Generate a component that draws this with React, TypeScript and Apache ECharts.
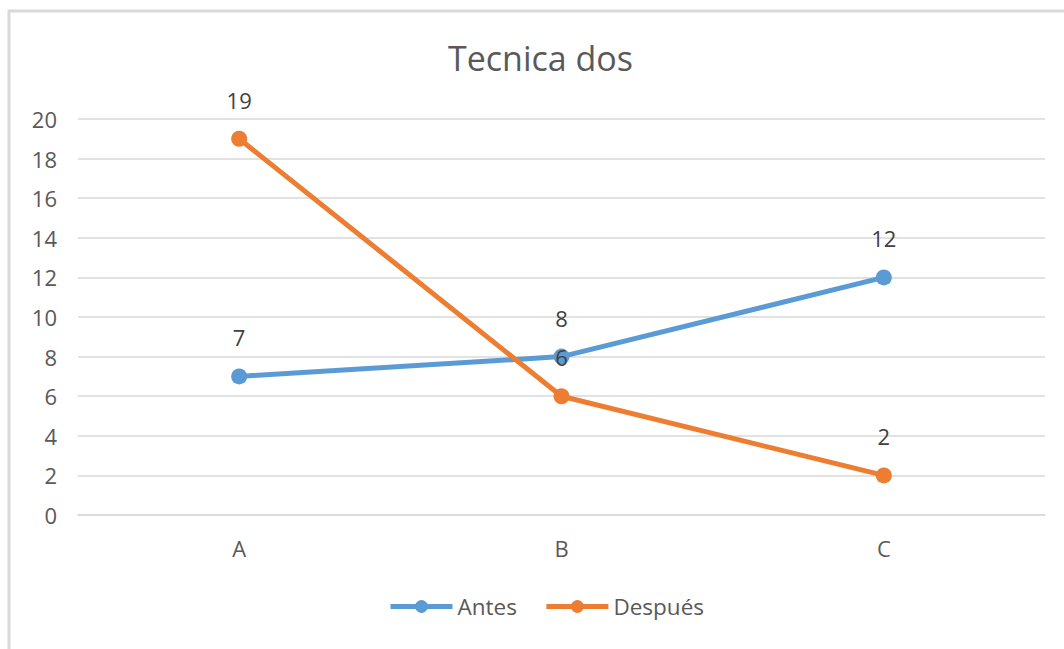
import React, { useEffect, useRef } from "react";
import * as echarts from "echarts";

const categories = ["A", "B", "C"];
const antes = [7, 8, 12];
const despues = [19, 6, 2];
const seriesNames = ["Antes", "Después"];
const titleText = "Tecnica dos";

const FONT = "'Open Sans', sans-serif";
const TEXT = "#595959";

export default function App() {
  const ref = useRef<HTMLDivElement>(null);
  useEffect(() => {
    if (!ref.current) return;
    const chart = echarts.init(ref.current, undefined, { renderer: "svg" });
    const lbl = {
      show: true,
      position: "top",
      distance: 20,
      color: "#404040",
      fontSize: 22,
      fontFamily: FONT,
    };
    chart.setOption({
      animation: false,
      backgroundColor: "#ffffff",
      textStyle: { fontFamily: FONT },
      title: {
        text: titleText,
        left: 448,
        top: 41,
        padding: 0,
        textStyle: { color: TEXT, fontSize: 34, fontWeight: "normal", fontFamily: FONT },
      },
      graphic: [
        {
          type: "rect",
          shape: { x: 9, y: 11, width: 1100, height: 700 },
          style: { fill: "none", stroke: "#d9d9d9", lineWidth: 3 },
          silent: true,
        },
      ],
      grid: { left: 78, right: 19, top: 119, bottom: 134, containLabel: false },
      legend: {
        data: seriesNames,
        bottom: 26,
        left: 383,
        itemWidth: 62,
        itemHeight: 16,
        itemGap: 27,
        lineStyle: { width: 5 },
        textStyle: { color: TEXT, fontSize: 22.5, fontFamily: FONT, padding: [0, 0, 0, 0] },
      },
      xAxis: {
        type: "category",
        data: categories,
        boundaryGap: true,
        axisLine: { show: true, lineStyle: { color: "#d9d9d9", width: 1.5 } },
        axisTick: { show: false },
        axisLabel: { color: TEXT, fontSize: 22, fontFamily: FONT, margin: 22 },
      },
      yAxis: {
        type: "value",
        min: 0,
        max: 20,
        interval: 2,
        axisLine: { show: false },
        axisTick: { show: false },
        splitLine: { lineStyle: { color: "#d9d9d9", width: 1.5 } },
        axisLabel: { color: TEXT, fontSize: 22, fontFamily: FONT, margin: 21 },
      },
      series: [
        {
          name: seriesNames[0],
          type: "line",
          data: antes,
          color: "#5B9BD5",
          symbol: "circle",
          symbolSize: 16,
          lineStyle: { width: 5, color: "#5B9BD5" },
          itemStyle: { color: "#5B9BD5" },
          label: lbl,
        },
        {
          name: seriesNames[1],
          type: "line",
          data: despues,
          color: "#ED7D31",
          symbol: "circle",
          symbolSize: 16,
          lineStyle: { width: 5, color: "#ED7D31" },
          itemStyle: { color: "#ED7D31" },
          label: lbl,
        },
      ],
    });
    return () => chart.dispose();
  }, []);
  return (
    <div
      ref={ref}
      style={{ position: "fixed", left: 0, top: 0, width: 1064, height: 649 }}
    />
  );
}
